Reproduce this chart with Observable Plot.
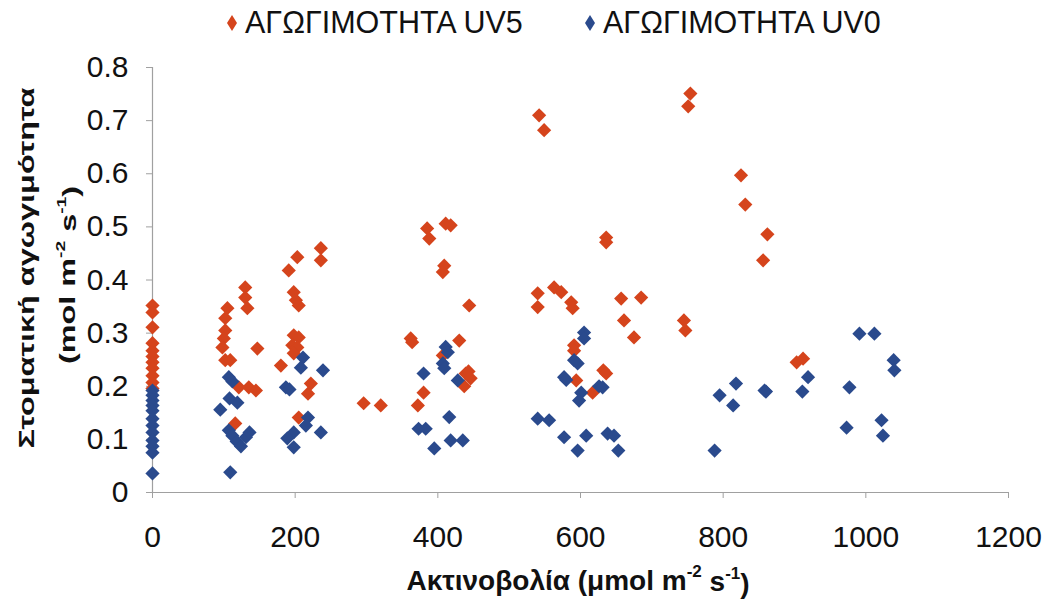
<!DOCTYPE html>
<html>
<head>
<meta charset="utf-8">
<script src="https://cdn.jsdelivr.net/npm/d3@7"></script>
<script src="https://cdn.jsdelivr.net/npm/@observablehq/plot@0.6"></script>
<style>
  html, body { margin: 0; padding: 0; background: #fff; }
  body { width: 1047px; height: 603px; overflow: hidden; font-family: "Liberation Sans", Arial, sans-serif; }
  #legend { position: relative; height: 40px; }
  .item { position: absolute; top: 5px; display: flex; align-items: center; font-size: 30.5px; color: #111; white-space: nowrap; }
  .item svg { margin-right: 7px; }
</style>
</head>
<body>
<div id="legend"></div>
<div id="chart"></div>
<script>
// ---- data ----
const seriesNames = ["ΑΓΩΓΙΜΟΤΗΤΑ UV5", "ΑΓΩΓΙΜΟΤΗΤΑ UV0"];
const seriesColors = ["#d5441c", "#2a4a8d"];

const uv5X = [0,0,0,0,0,0,0,0,0,0,0,
  105,102,102,100,98,102,109,130,130,133,147,121,135,145,116,
  203,236,236,191,198,205,201,198,205,196,203,198,180,222,218,205,
  296,320,
  385,411,418,388,409,407,444,362,364,430,407,439,446,437,443,380,372,
  542,549,636,636,540,540,563,573,587,589,657,685,661,675,591,591,632,636,594,617,
  754,751,825,831,862,856,745,747,903,912];
const uv5Y = [0.352,0.339,0.311,0.281,0.267,0.256,0.245,0.234,0.220,0.207,0.196,
  0.347,0.328,0.305,0.290,0.273,0.249,0.249,0.386,0.367,0.347,0.271,0.198,0.198,0.192,0.130,
  0.443,0.460,0.437,0.418,0.377,0.352,0.362,0.296,0.292,0.277,0.273,0.262,0.239,0.205,0.186,0.141,
  0.168,0.164,
  0.497,0.506,0.503,0.478,0.427,0.415,0.352,0.290,0.283,0.286,0.258,0.224,0.215,0.200,0.228,0.188,0.164,
  0.710,0.682,0.480,0.471,0.375,0.349,0.386,0.377,0.358,0.347,0.365,0.367,0.324,0.292,0.277,0.267,0.230,0.224,0.211,0.188,
  0.751,0.727,0.597,0.542,0.486,0.437,0.324,0.305,0.245,0.252];

const uv0X = [0,0,0,0,0,0,0,0,0,0,0,0,
  107,112,108,119,95,107,112,118,124,131,136,109,
  211,208,239,187,192,218,215,198,236,189,198,
  411,414,407,409,380,428,373,383,416,418,435,395,
  605,605,591,596,577,580,626,631,601,598,540,556,577,608,596,638,647,653,
  788,795,818,814,858,860,911,919,977,973,991,1012,1022,1024,1039,1040];
const uv0Y = [0.192,0.183,0.173,0.164,0.154,0.139,0.126,0.113,0.098,0.087,0.075,0.036,
  0.217,0.209,0.177,0.169,0.156,0.117,0.107,0.096,0.087,0.104,0.113,0.038,
  0.254,0.235,0.230,0.198,0.194,0.141,0.126,0.113,0.113,0.102,0.085,
  0.274,0.264,0.243,0.234,0.224,0.211,0.120,0.120,0.142,0.098,0.098,0.083,
  0.301,0.290,0.249,0.243,0.217,0.212,0.200,0.198,0.188,0.173,0.139,0.136,0.104,0.107,0.079,0.111,0.107,0.079,
  0.079,0.183,0.205,0.164,0.192,0.190,0.190,0.217,0.198,0.122,0.299,0.299,0.136,0.107,0.249,0.230];

const xTicks = [0, 200, 400, 600, 800, 1000, 1200];
const yTicks = [0, 0.1, 0.2, 0.3, 0.4, 0.5, 0.6, 0.7, 0.8];

const xLabel = ["Ακτινοβολία (μmol m", "-2", " s", "-1", ")"];
const yLabel1 = "Στοματική αγωγιμότητα";
const yLabel2 = ["(mol m", "-2", " s", "-1", ")"];

// ---- build table ----
const rows = [];
uv5X.forEach((x, i) => rows.push({x, y: uv5Y[i], s: seriesNames[0]}));
uv0X.forEach((x, i) => rows.push({x, y: uv0Y[i], s: seriesNames[1]}));

// ---- legend ----
const legend = document.getElementById("legend");
const legendLeft = [226, 584];
seriesNames.forEach((name, i) => {
  const it = document.createElement("div");
  it.className = "item";
  it.style.left = legendLeft[i] + "px";
  it.innerHTML = `<svg width="12" height="20" viewBox="0 0 12 20"><polygon points="6,2 11,10 6,18 1,10" fill="${seriesColors[i]}"/></svg><span>${name}</span>`;
  legend.appendChild(it);
});

// ---- chart ----
const W = 1047, H = 563;
const chart = Plot.plot({
  width: W,
  height: H,
  marginTop: 27,
  marginBottom: 111,
  marginLeft: 152,
  marginRight: 39,
  style: {fontFamily: "'Liberation Sans', Arial, sans-serif", background: "#fff", overflow: "visible"},
  x: {domain: [0, 1200], label: null},
  y: {domain: [0, 0.8], label: null},
  color: {domain: seriesNames, range: seriesColors},
  marks: [
    Plot.ruleY([0], {stroke: "#a0a0a0", strokeWidth: 1.2}),
    Plot.ruleX([0], {stroke: "#a0a0a0", strokeWidth: 1.2}),
    Plot.axisX({ticks: xTicks, tickSize: 6, tickPadding: 27, fontSize: 30, stroke: "#a0a0a0", fill: "#111", tickFormat: d => String(d), label: null}),
    Plot.axisY({ticks: yTicks, tickSize: 6, tickPadding: 18, fontSize: 30, stroke: "#a0a0a0", fill: "#111", tickFormat: d => d === 0 ? "0" : d3.format(".1f")(d), label: null}),
    Plot.dot(rows.filter(d => d.s === seriesNames[0]), {x: "x", y: "y", fill: "s", symbol: "diamond2", r: 6.4}),
    Plot.dot(rows.filter(d => d.s === seriesNames[1]), {x: "x", y: "y", fill: "s", symbol: "diamond2", r: 6.4})
  ]
});
document.getElementById("chart").appendChild(chart);

// ---- axis titles (multi-part with superscripts) ----
const svg = d3.select(chart);
function addParts(textSel, parts, supSize) {
  parts.forEach((p, i) => {
    const sup = p.startsWith("-");
    textSel.append("tspan")
      .attr("font-size", sup ? supSize : null)
      .attr("dy", sup ? "-0.75em" : (i > 0 && parts[i - 1].startsWith("-") ? "0.5em" : null))
      .text(p);
  });
}
const xt = svg.append("text")
  .attr("x", 578).attr("y", 550)
  .attr("text-anchor", "middle")
  .attr("font-size", 28).attr("font-weight", "bold").attr("fill", "#111");
addParts(xt, xLabel, "17px");

svg.append("text")
  .attr("transform", "translate(34,228) rotate(-90) scale(1.2,0.85)")
  .attr("text-anchor", "middle")
  .attr("font-size", 27).attr("font-weight", "bold").attr("fill", "#111")
  .text(yLabel1);
const yt2 = svg.append("text")
  .attr("transform", "translate(75,235) rotate(-90) scale(1.2,0.85)")
  .attr("text-anchor", "middle")
  .attr("font-size", 27).attr("font-weight", "bold").attr("fill", "#111");
addParts(yt2, yLabel2, "16px");
</script>
</body>
</html>
